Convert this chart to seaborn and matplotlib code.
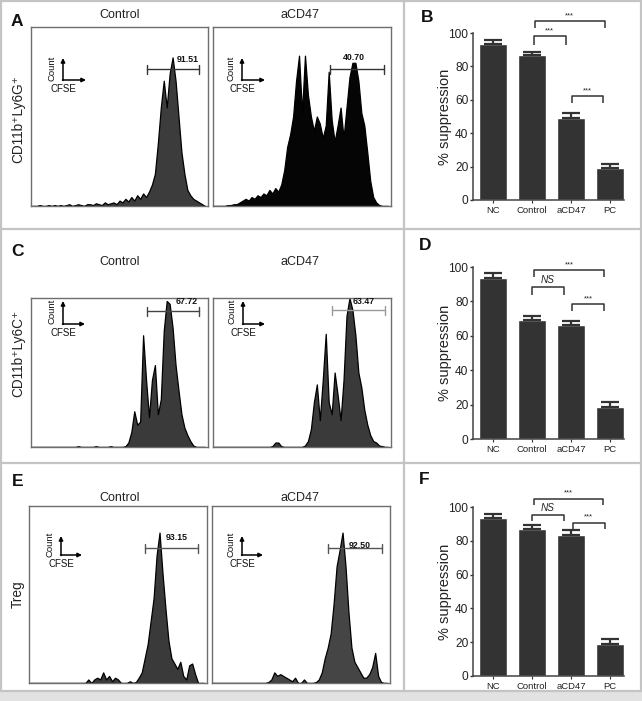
import numpy as np
import pandas as pd
import matplotlib
matplotlib.use("Agg")
import matplotlib.pyplot as plt
from matplotlib.patches import Rectangle
import seaborn as sns

# ---------------- data ----------------
groups = ["NC", "Control", "aCD47", "PC"]
supp_B = [93.5, 87.0, 49.0, 19.0]
err_B = [2.2, 1.8, 3.0, 2.4]
supp_D = [93.8, 69.0, 66.0, 18.8]
err_D = [2.5, 2.8, 2.8, 2.5]
supp_F = [93.7, 87.2, 83.2, 19.1]
err_F = [2.3, 2.3, 3.3, 2.6]

hist_A_ctrl = [0, 0, 0, 0.5, 0, 0, 0.5, 0, 0.5, 0,
               0.5, 0, 0.5, 1, 0, 0.5, 1, 0.5, 0, 1,
               1, 0.5, 1.5, 1, 0.5, 2, 1, 1.5, 2, 1,
               3, 2, 4, 2.5, 5, 3, 6, 4, 7, 5,
               8, 12, 18, 35, 55, 70, 55, 74, 83, 70,
               50, 30, 18, 9, 6, 4, 3, 2, 1, 0]
hist_A_acd = [0, 0, 0, 0, 0, 0.5, 0.5, 1, 1, 2,
              3, 4, 3, 5, 4, 6, 5, 7, 6, 9,
              7, 10, 8, 12, 20, 33, 40, 50, 70, 84,
              52, 84, 62, 50, 42, 50, 46, 38, 45, 75,
              48, 36, 45, 55, 38, 55, 72, 80, 80, 70,
              52, 45, 30, 14, 5, 2, 0.5, 0, 0, 0]
hist_C_ctrl = [0, 0, 0, 0, 0, 0, 0, 0, 0, 0,
               0, 0, 0, 0, 0, 0, 0.5, 0, 0, 0,
               0, 0, 0.5, 0, 0, 0, 0, 0.5, 0, 0,
               0, 0, 0.5, 3, 10, 24, 15, 17, 75, 45,
               20, 45, 55, 22, 32, 78, 98, 96, 80, 55,
               38, 22, 13, 8, 4, 1, 0, 0, 0, 0]
hist_C_acd = [0, 0, 0, 0, 0, 0, 0, 0, 0, 0,
              0, 0, 0, 0, 0, 0, 0, 0, 0, 0,
              0.5, 3, 3, 0.5, 0, 0, 0, 0, 0, 0,
              0, 1, 4, 12, 30, 42, 18, 45, 76, 30,
              22, 50, 35, 18, 45, 88, 100, 92, 75, 50,
              40, 25, 15, 8, 4, 3, 1, 0.5, 0, 0]
hist_E_ctrl = [0, 0, 0, 0, 0, 0, 0, 0, 0, 0,
               0, 0, 0, 0, 0, 0, 0, 0, 0, 0,
               2, 0, 2, 3, 2, 6, 2, 4, 1, 3,
               2, 0, 0, 0, 1, 0, 0.5, 3, 6, 14,
               22, 35, 48, 72, 85, 62, 42, 24, 14, 11,
               8, 12, 4, 2, 10, 11, 5, 0, 0, 0]
hist_E_acd = [0, 0, 0, 0, 0, 0, 0, 0, 0, 0,
              0, 0, 0, 0, 0, 0, 0, 0, 0, 0.5,
              2, 6, 4, 5, 4, 3, 2, 1, 3, 0,
              0, 2, 0, 0, 0, 0.5, 2, 6, 14, 20,
              28, 45, 66, 75, 85, 66, 40, 20, 12, 9,
              6, 3, 3, 5, 9, 17, 4, 0.5, 0, 0]

gate_values = {"A": ["91.51", "40.70"], "C": ["67.72", "63.47"], "E": ["93.15", "92.50"]}
row_labels = ["CD11b\u207aLy6G\u207a", "CD11b\u207aLy6C\u207a", "Treg"]
col_titles = ["Control", "aCD47"]

# ---------------- style ----------------
sns.set_theme(style="white")
plt.rcParams["font.family"] = ["Liberation Sans", "DejaVu Sans"]

W, H = 642, 701
fig = plt.figure(figsize=(W / 100, H / 100), dpi=100)
fig.patch.set_facecolor("white")


def rect(l, t, r, b):
    return [l / W, 1 - b / H, (r - l) / W, (b - t) / H]


DARK = "#333333"

# bottom grey band (behind the axes)
fig.add_artist(Rectangle((0, 0), 1, (H - 691) / H, transform=fig.transFigure,
                         facecolor="#e2e2e2", edgecolor="none", zorder=-5))

# ---------------- histograms ----------------
hist_specs = [
    ((31, 27, 208, 206), hist_A_ctrl, "#3c3c3c"),
    ((213, 27, 391, 206), hist_A_acd, "#050505"),
    ((31, 298, 208, 447), hist_C_ctrl, "#3a3a3a"),
    ((213, 298, 391, 447), hist_C_acd, "#3a3a3a"),
    ((29, 506, 207, 683), hist_E_ctrl, "#3a3a3a"),
    ((212, 506, 390, 683), hist_E_acd, "#454545"),
]
for box, counts, col in hist_specs:
    ax = fig.add_axes(rect(*box))
    n = len(counts)
    pos = np.arange(n)
    sns.histplot(x=pos, weights=counts, bins=n, binrange=(-0.5, n - 0.5),
                 element="poly", fill=True, color=col, alpha=1, linewidth=0.9,
                 edgecolor="black", ax=ax)
    ax.set_xlim(0, n)
    ax.set_ylim(0, 100)
    ax.set_xticks([])
    ax.set_yticks([])
    ax.set_xlabel("")
    ax.set_ylabel("")
    for s in ax.spines.values():
        s.set_color("#6e6e6e")
        s.set_linewidth(1.0)
        s.set_visible(True)

# ---------------- bar charts ----------------
bar_specs = [
    ((473, 33, 624, 200), supp_B, err_B,
     [(1.07, 2.87, 107.4, 103, 103, "***"), (1.05, 1.86, 98, 93, 93, "***"),
      (2.02, 2.82, 62, 58, 58, "***")]),
    ((473, 267, 624, 439), supp_D, err_D,
     [(1.05, 2.85, 98, 94, 94, "***"), (0.99, 1.82, 88.4, 84, 84, "NS"),
      (2.02, 2.85, 78.3, 74.3, 74.3, "***")]),
    ((473, 507, 624, 676), supp_F, err_F,
     [(1.05, 2.83, 105, 101, 101, "***"), (0.99, 1.82, 95.5, 92, 92, "NS"),
      (2.04, 2.87, 90.8, 86.8, 86.8, "***")]),
]
for box, vals, errs, brackets in bar_specs:
    ax = fig.add_axes(rect(*box))
    df = pd.DataFrame({"group": groups, "value": vals})
    sns.barplot(data=df, x="group", y="value", color=DARK, saturation=1,
                width=0.72, errorbar=None, ax=ax)
    ax.errorbar(np.arange(len(vals)), vals, yerr=[np.zeros(len(vals)), errs],
                fmt="none", ecolor=DARK, elinewidth=1.6, capsize=6.5, capthick=1.6)
    ax.set_xlim(-0.514, 3.36)
    ax.set_ylim(0, 100)
    ax.set_yticks([0, 20, 40, 60, 80, 100])
    ax.set_xlabel("")
    ax.set_ylabel("% suppression", fontsize=10.5, color="#222222")
    ax.yaxis.set_label_coords(-0.14, 0.5)
    ax.tick_params(axis="y", left=True, length=2.5, width=1, pad=0.8,
                   labelsize=8.6, colors="#333333", labelcolor="#222222")
    ax.tick_params(axis="x", bottom=True, length=2, width=0.8, pad=2.0,
                   labelsize=6.8, colors="#333333", labelcolor="#222222")
    for side in ["top", "right"]:
        ax.spines[side].set_visible(False)
    for side in ["left", "bottom"]:
        ax.spines[side].set_color("#444444")
        ax.spines[side].set_linewidth(1.1)
    for x1, x2, y, yl1, yl2, lab in brackets:
        ax.plot([x1, x1, x2, x2], [yl1, y, y, yl2], color=DARK, lw=1.1,
                clip_on=False, solid_capstyle="butt")
        if lab == "NS":
            ax.text((x1 + x2) / 2, y + 1.2, lab, ha="center", va="bottom",
                    fontsize=7.2, style="italic", color="#222222", clip_on=False)
        else:
            ax.text((x1 + x2) / 2, y + 1.0, lab, ha="center", va="bottom",
                    fontsize=5.5, color="#222222", clip_on=False)

# ---------------- overlay (pixel coordinates) ----------------
ov = fig.add_axes([0, 0, 1, 1], zorder=20)
ov.set_xlim(0, W)
ov.set_ylim(H, 0)
ov.axis("off")
ov.patch.set_alpha(0)

BORDER = "#c4c4c4"
for y in [0.8, 228.5, 462.5, 691]:
    ov.plot([0, W], [y, y], color=BORDER, lw=1.6)
ov.plot([0.8, 0.8], [0, 691], color=BORDER, lw=1.6)
ov.plot([W - 1.5, W - 1.5], [0, 691], color=BORDER, lw=1.6)
ov.plot([404, 404], [0, 691], color=BORDER, lw=1.6)

# panel letters
for lab, x, y in [("A", 16.5, 21), ("B", 427, 18), ("C", 17.5, 252),
                  ("D", 425, 245), ("E", 17.5, 481), ("F", 424, 480)]:
    ov.text(x, y, lab, fontsize=12.5, fontweight="bold", ha="center", va="center",
            color="#111111")

# row labels
for lab, y in zip(row_labels, [119, 353, 594]):
    ov.text(18, y, lab, rotation=90, fontsize=9.8, ha="center", va="center",
            color="#222222")

# column titles
for y in [15, 262, 498]:
    ov.text(120, y, col_titles[0], fontsize=9, ha="center", va="center", color="#222222")
    ov.text(300, y, col_titles[1], fontsize=9, ha="center", va="center", color="#222222")

# inset Count/CFSE arrows: (corner x, corner y, top y, right x)
insets = [(63, 80, 58, 86), (242, 80, 58, 265),
          (63, 324, 301, 85), (243, 324, 301, 265),
          (61, 555, 536, 82), (242, 555, 536, 263)]
for cx, cy, ty, rx in insets:
    ov.annotate("", xy=(cx, ty), xytext=(cx, cy + 0.5),
                arrowprops=dict(arrowstyle="-|>", color="black", lw=1.1,
                                mutation_scale=6, shrinkA=0, shrinkB=0))
    ov.annotate("", xy=(rx, cy), xytext=(cx - 0.5, cy),
                arrowprops=dict(arrowstyle="-|>", color="black", lw=1.1,
                                mutation_scale=6, shrinkA=0, shrinkB=0))
    ov.text(cx - 11, (cy + ty) / 2 - 1, "Count", rotation=90, fontsize=6.8,
            ha="center", va="center", color="#111111")
    ov.text(cx, cy + 9, "CFSE", fontsize=7.0, ha="center", va="center",
            color="#111111")

# gates: (x1, x2, y, label x, label y, colour)
gates = [(147, 199, 69, 187.5, 60, gate_values["A"][0], "#333333"),
         (330, 384, 69, 354, 57, gate_values["A"][1], "#333333"),
         (147, 199, 311, 187, 301, gate_values["C"][0], "#444444"),
         (332, 385, 310, 364, 301, gate_values["C"][1], "#9a9a9a"),
         (145, 198, 548, 177, 537, gate_values["E"][0], "#555555"),
         (328, 382, 548, 360, 545, gate_values["E"][1], "#555555")]
for x1, x2, y, tx, ty, lab, col in gates:
    ov.plot([x1, x2], [y, y], color=col, lw=1.0)
    ov.plot([x1, x1], [y - 4.5, y + 4.5], color=col, lw=1.0)
    ov.plot([x2, x2], [y - 4.5, y + 4.5], color=col, lw=1.0)
    ov.text(tx, ty, lab, fontsize=6.3, fontweight="bold", ha="center", va="center",
            color="#111111")

fig.savefig("out.png", dpi=100, facecolor="white")
